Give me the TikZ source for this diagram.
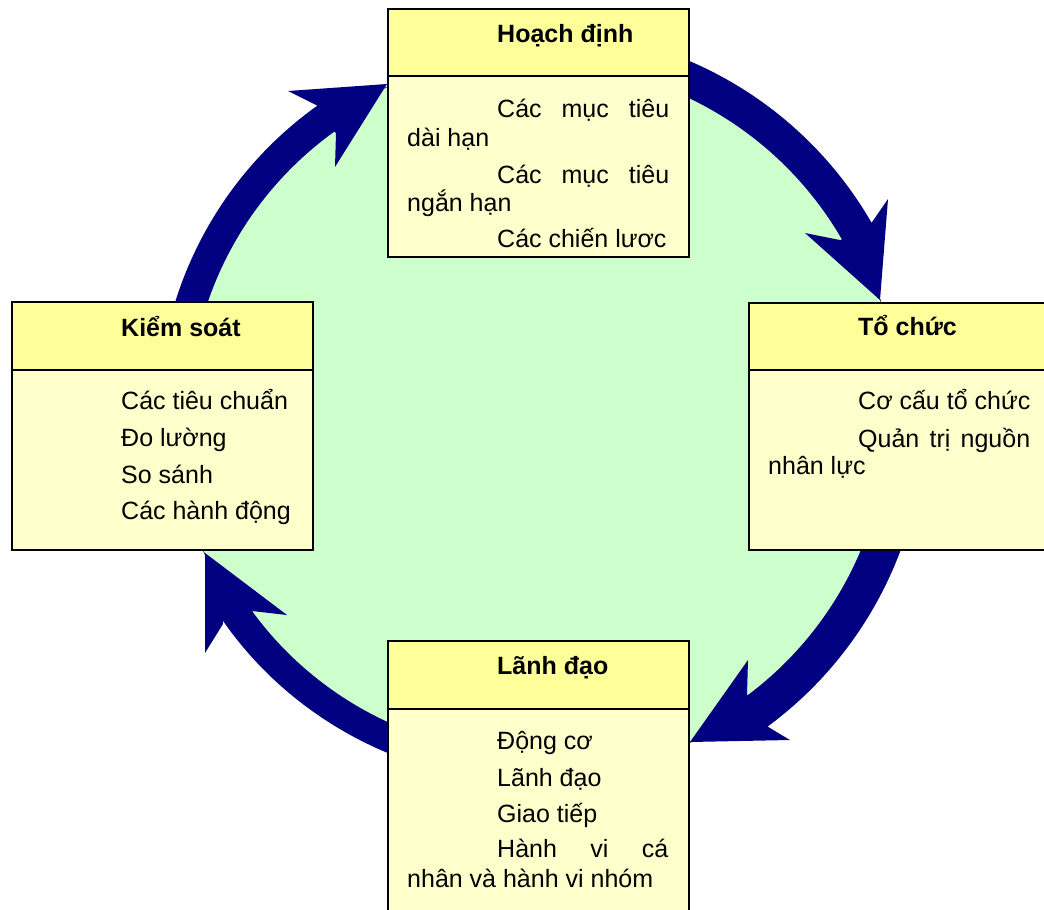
\documentclass[tikz,border=0pt]{standalone}
\usepackage{fontspec}
\setmainfont{Liberation Sans}
\usetikzlibrary{calc}
\definecolor{hdrY}{HTML}{FFFF99}
\definecolor{bodyY}{HTML}{FFFFCC}
\definecolor{grnF}{HTML}{CCFFCC}
\definecolor{navyA}{HTML}{000080}
\tikzset{
  hdrbox/.style={draw=black, line width=1.5pt, fill=hdrY, rectangle, inner sep=0pt, anchor=north west},
  bodybox/.style={draw=black, line width=1.5pt, fill=bodyY, rectangle, inner sep=0pt, anchor=north west},
  txt/.style={anchor=base west, inner sep=0pt, font=\fontsize{25pt}{29pt}\selectfont},
  ttl/.style={anchor=base west, inner sep=0pt, font=\fontsize{25pt}{29pt}\selectfont\bfseries},
  blockarrow/.style={fill=navyA},
  ring/.style={fill=grnF, draw=black, line width=0.5pt}
}
\begin{document}
\begin{tikzpicture}[x=1pt,y=-1pt]
\useasboundingbox (0,0) rectangle (1044,910);
\clip (0,0) rectangle (1044,910);
\fill[white] (0,0) rectangle (1044,910);
\coordinate (O) at (538,415);
% green disc
\path[ring] (O) circle[radius=361];
% arrow Hoach dinh -> To chuc
\fill[blockarrow] ($(O)+(-75:385)$) arc[start angle=-75, end angle=-30, radius=385]
  -- (868,228) -- (888,199) -- (880,300) -- (805,233) -- (840,240)
  -- ($(O)+(-30:351)$) arc[start angle=-30, end angle=-75, radius=351] -- cycle;
% arrow To chuc -> Lanh dao
\fill[blockarrow] ($(O)+(15:387)$) arc[start angle=15, end angle=54, radius=387]
  -- (760,722) -- (790,740) -- (690,742) -- (748,660) -- (747,695)
  -- ($(O)+(53.3:350)$) arc[start angle=53.3, end angle=15, radius=350] -- cycle;
% arrow Lanh dao -> Kiem soat
\fill[blockarrow] ($(O)+(105:380 and 368)$) arc[start angle=105, end angle=146, x radius=380, y radius=368]
  -- (223,624) -- (205,653) -- (205,553) -- (287,615) -- (252,611)
  -- ($(O)+(144.8:350 and 340)$) arc[start angle=144.8, end angle=105, x radius=350, y radius=340] -- cycle;
% arrow Kiem soat -> Hoach dinh
\fill[blockarrow] ($(O)+(-165:380)$) arc[start angle=-165, end angle=-125.3, radius=380]
  -- (320,107) -- (288,91) -- (387,84) -- (335,167) -- (336,133)
  -- ($(O)+(-125.7:349)$) arc[start angle=-125.7, end angle=-165, radius=349] -- cycle;

% boxes
\node[bodybox, minimum width=301pt, minimum height=181pt] (Hb) at (387,75) {};
\node[hdrbox, minimum width=301pt, minimum height=67pt] (Hh) at (387,8) {};
\node[bodybox, minimum width=301pt, minimum height=180pt] (Tb) at (748,369) {};
\node[hdrbox, minimum width=301pt, minimum height=67pt] (Th) at (748,302) {};
\node[bodybox, minimum width=301pt, minimum height=180pt] (Kb) at (11,369) {};
\node[hdrbox, minimum width=301pt, minimum height=68pt] (Kh) at (11,301) {};
\node[bodybox, minimum width=301pt, minimum height=222pt] (Lb) at (387,708) {};
\node[hdrbox, minimum width=301pt, minimum height=68pt] (Lh) at (387,640) {};

% Hoach dinh
\node[ttl] (h0) at (497,42) {Hoạch định};
\node[txt] (h1) at (497,117) {\makebox[172pt][s]{Các mục tiêu}};
\node[txt] (h2) at (407,146) {dài hạn};
\node[txt] (h3) at (497,183) {\makebox[172pt][s]{Các mục tiêu}};
\node[txt] (h4) at (407,211) {ngắn hạn};
\node[txt] (h5) at (497,247) {Các chiến lươc};

% To chuc
\node[ttl] (t0) at (858,335) {Tổ chức};
\node[txt] (t1) at (858,409) {Cơ cấu tổ chức};
\node[txt] (t2) at (858,447) {\makebox[172pt][s]{Quản trị nguồn}};
\node[txt] (t3) at (768,474) {nhân lực};

% Kiem soat
\node[ttl] (k0) at (121,336) {Kiểm soát};
\node[txt] (k1) at (121,409) {Các tiêu chuẩn};
\node[txt] (k2) at (121,446) {Đo lường};
\node[txt] (k3) at (121,483) {So sánh};
\node[txt] (k4) at (121,519) {Các hành động};

% Lanh dao
\node[ttl] (l0) at (497,674) {Lãnh đạo};
\node[txt] (l1) at (497,749) {Động cơ};
\node[txt] (l2) at (497,786) {Lãnh đạo};
\node[txt] (l3) at (497,822) {Giao tiếp};
\node[txt] (l4) at (497,857) {\makebox[171pt][s]{Hành vi cá}};
\node[txt] (l5) at (407,887) {nhân và hành vi nhóm};
\end{tikzpicture}
\end{document}
